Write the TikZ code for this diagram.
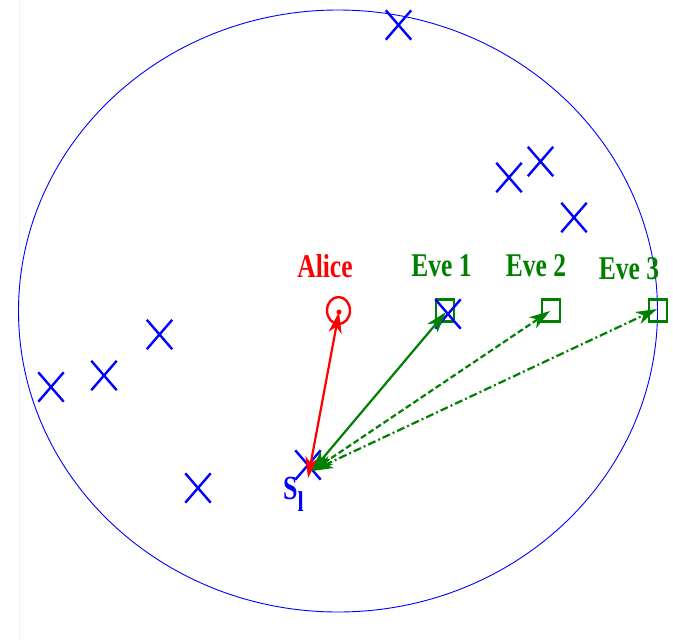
\documentclass[tikz,border=0pt]{standalone}
\usepackage{fontspec}
\setmainfont{Liberation Serif}
\usepackage{graphicx}
\usetikzlibrary{arrows.meta,shapes.misc,shapes.geometric}
\definecolor{mblue}{RGB}{0,0,255}
\definecolor{mred}{RGB}{255,0,0}
\definecolor{mgreen}{RGB}{0,128,0}
\begin{document}
\begin{tikzpicture}[x=1pt,y=-1pt,
  xmk/.style={cross out,draw=mblue,line width=2.4pt,minimum width=23pt,minimum height=27pt,inner sep=0pt},
  evebox/.style={rectangle,draw=mgreen,line width=2.4pt,minimum width=18pt,minimum height=22pt,inner sep=0pt},
  lbl/.style={font=\bfseries\fontsize{25.5}{25.5}\selectfont,inner sep=0pt},
  link/.style={line width=2.2pt,{Stealth[length=21pt,width=13pt,inset=6pt]}-{Stealth[length=21pt,width=13pt,inset=6pt]}},
]
\useasboundingbox (0,0) rectangle (673,640);
\fill[white] (0,0) rectangle (673,640);
\draw[gray!8,line width=1pt] (19,0) -- (19,640);
% region boundary
\draw[mblue,line width=0.9pt] (338,311) ellipse [x radius=319.5,y radius=301];
% squares
\node[evebox] (e1) at (445,310.5) {};
\node[evebox] (e2) at (551,310.5) {};
\node[evebox] (e3) at (658,310.5) {};
% markers
\node[xmk] (m1) at (398.5,25) {};
\node[xmk] (m2) at (509,177.5) {};
\node[xmk] (m3) at (540.5,161.5) {};
\node[xmk] (m4) at (574,217.5) {};
\node[xmk] (m5) at (159.5,334.5) {};
\node[xmk] (m6) at (104,375.5) {};
\node[xmk] (m7) at (51,387) {};
\node[xmk] (m8) at (198,488) {};
\node[xmk] (m9) at (448,314) {};
\node[xmk] (m10) at (308,465) {};
% Alice
\node[ellipse,draw=mred,line width=2.4pt,minimum width=23pt,minimum height=27pt,inner sep=0pt] (al) at (338.5,310.5) {};
\node[circle,fill=mred,inner sep=0pt,minimum size=5pt] (ad) at (339,312) {};
% anchor points
\coordinate (sr) at (308,478);
\coordinate (sg) at (312,471);
\coordinate (t1) at (446,312);
\coordinate (t2) at (550,311);
\coordinate (t3) at (657,309);
% links
\draw[link,mred] (sr) -- (ad.center);
\draw[link,mgreen] (sg) -- (t1);
\draw[link,mgreen,dash pattern=on 6pt off 3pt] (sg) -- (t2);
\draw[link,mgreen,dash pattern=on 8pt off 3pt on 2pt off 3pt] (sg) -- (t3);
% labels
\node[lbl,text=mred] (la) at (325,266) {\scalebox{1}[1.3]{Alice}};
\node[lbl,text=mgreen] (l1) at (441.5,266) {\scalebox{1}[1.3]{Eve 1}};
\node[lbl,text=mgreen] (l2) at (536,266) {\scalebox{1}[1.3]{Eve 2}};
\node[lbl,text=mgreen] (l3) at (629,269) {\scalebox{1}[1.3]{Eve 3}};
\node[inner sep=0pt,text=mblue,font=\bfseries] (ls) at (293.5,494) {\scalebox{1}[1.3]{\fontsize{26}{26}\selectfont S\raisebox{-9pt}{\fontsize{22}{22}\selectfont l}}};
\end{tikzpicture}
\end{document}
